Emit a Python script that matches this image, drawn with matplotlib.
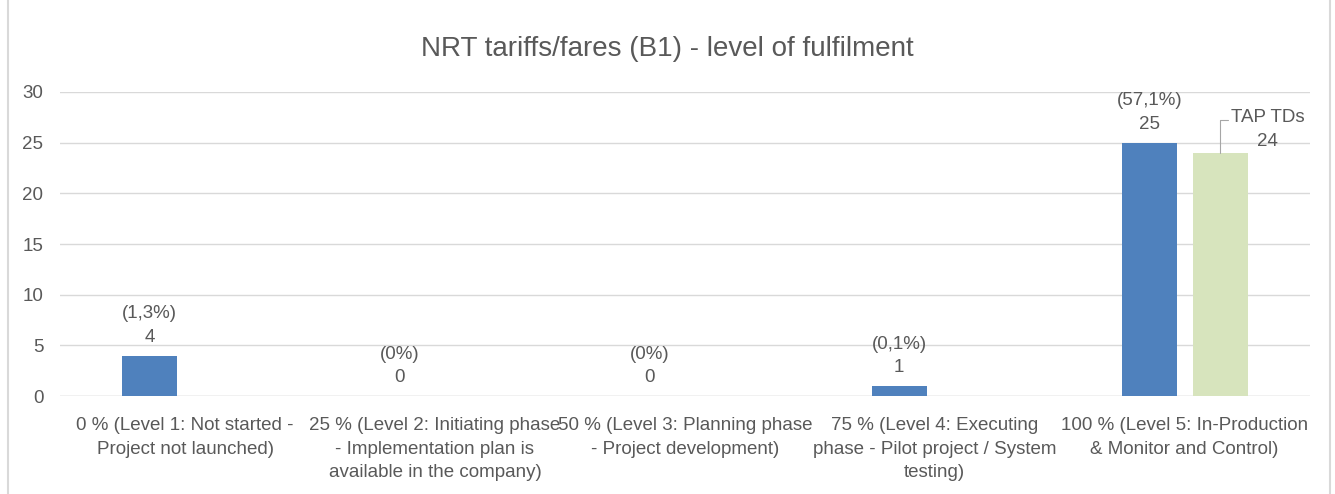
import numpy as np
import matplotlib
matplotlib.use("Agg")
import matplotlib.pyplot as plt
from matplotlib.patches import Rectangle

plt.rcParams['font.family'] = ['Liberation Sans Narrow', 'Liberation Sans', 'DejaVu Sans']

categories = [
    "0 % (Level 1: Not started -\nProject not launched)",
    "25 % (Level 2: Initiating phase\n- Implementation plan is\navailable in the company)",
    "50 % (Level 3: Planning phase\n- Project development)",
    "75 % (Level 4: Executing\nphase - Pilot project / System\ntesting)",
    "100 % (Level 5: In-Production\n& Monitor and Control)",
]
survey_counts = [4, 0, 0, 1, 25]
survey_shares = ["(1,3%)", "(0%)", "(0%)", "(0,1%)", "(57,1%)"]
tap_counts = [None, None, None, None, 24]

text_grey = "#595959"
blue = "#4F81BD"
green = "#D7E4BD"

fig = plt.figure(figsize=(13.35, 4.94), dpi=100)
ax = fig.add_axes([0.045, 0.198, 0.936, 0.616])

x = np.arange(len(categories))
width = 0.22
offset = 0.142

ax.bar(x - offset, survey_counts, width, color=blue, zorder=3)
for xi, v, s in zip(x, survey_counts, survey_shares):
    ax.annotate(f"{s}\n{v}", (xi - offset, v), xytext=(0, 7), textcoords="offset points",
                ha="center", va="bottom", fontsize=13.5, color=text_grey, linespacing=1.5)

for xi, v in zip(x, tap_counts):
    if v is None:
        continue
    ax.bar(xi + offset, v, width, color=green, zorder=3)
    # label pulled out to the right with a leader line
    ax.annotate(f"TAP TDs\n{v}", (xi + offset, v), xytext=(34, 2), textcoords="offset points",
                ha="center", va="bottom", fontsize=13.5, color=text_grey, linespacing=1.5,
                arrowprops=dict(arrowstyle="-", color="#A6A6A6", lw=0.8,
                                connectionstyle="angle,angleA=0,angleB=90,rad=0",
                                shrinkA=0, shrinkB=0,
                                relpos=(0.1, 0.75)))

ax.set_xlim(-0.5, len(categories) - 0.5)
ax.set_ylim(0, 30)
ax.set_yticks(range(0, 31, 5))
ax.set_xticks(x)
ax.set_xticklabels(categories, fontsize=13.5, color=text_grey, linespacing=1.5)
ax.tick_params(axis="y", labelsize=13.5, labelcolor=text_grey, length=0, pad=12)
ax.tick_params(axis="x", length=0, pad=15)
ax.grid(axis="y", color="#D9D9D9", lw=1, zorder=0)
for sp in ax.spines.values():
    sp.set_visible(False)
ax.axhline(0, color="#D9D9D9", lw=1, zorder=2)

fig.text(0.5, 0.9, "NRT tariffs/fares (B1) - level of fulfilment", ha="center", va="center",
         fontsize=20, color=text_grey)

fig.patches.append(Rectangle((0.006, -0.01), 0.99, 1.02, transform=fig.transFigure,
                             fill=False, edgecolor="#D9D9D9", lw=1.5))

fig.savefig("out.png", dpi=100)
